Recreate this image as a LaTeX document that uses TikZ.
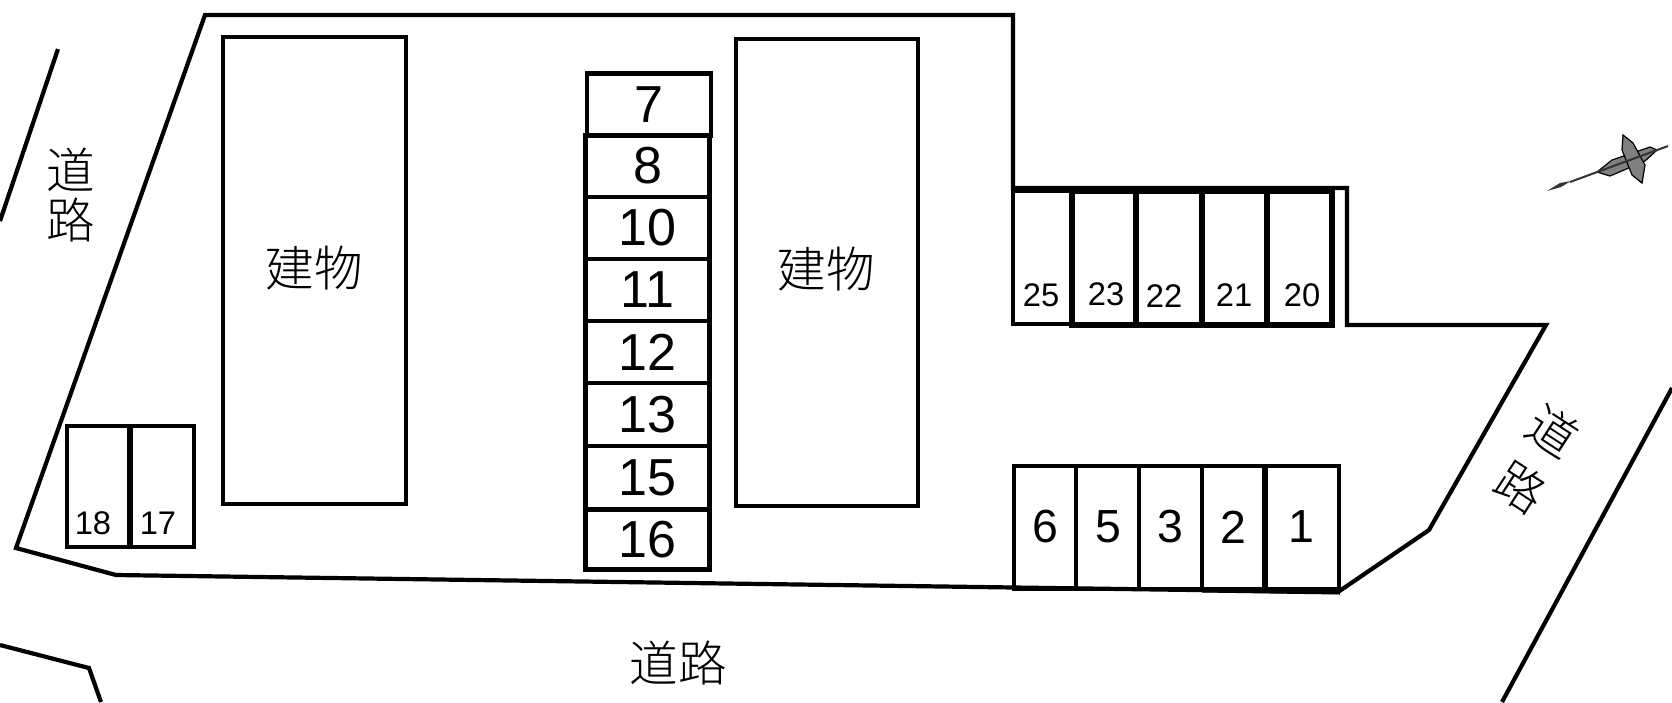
\documentclass[tikz,border=0pt]{standalone}
\usepackage{fontspec}
\setmainfont{Liberation Sans}
\newfontfamily\jpfont{Noto Sans CJK JP Light}
\tikzset{
	wall/.style={line width=0.042cm, line join=miter},
	thickwall/.style={line width=0.055cm},
	stall/.style={draw, line width=0.042cm, minimum width=1.24cm, inner sep=0, outer sep=0, font=\fontsize{14.8}{16}\selectfont},
	midnum/.style={inner sep=0, font=\fontsize{13.2}{15}\selectfont},
	smallnum/.style={inner sep=0, font=\fontsize{9.3}{11}\selectfont},
	kanji/.style={inner sep=0, font=\jpfont\fontsize{13.8}{15}\selectfont}
}

\begin{document}
\begin{tikzpicture}[x=0.01cm, y=-0.01cm]
			\useasboundingbox (0, 0) rectangle (1672, 702);
			%%%%% START %%%%%
			% lot outline
			\draw[wall] (205, 15) -- (1013, 15) -- (1013, 188) -- (1347, 188) -- (1347, 325) -- (1546, 325) -- (1429, 530) -- (1338, 592) -- (116, 575) -- (16, 548) -- cycle;
			
			% roads
			\draw[wall] (58, 49) -- (0, 221);
			\draw[wall] (0, 645) -- (89, 668) -- (101, 702);
			\draw[wall] (1672, 388) -- (1502, 702);
			
			% buildings
			\draw[wall] (223, 37) rectangle (406, 504);
			\draw[wall] (736, 39) rectangle (918, 506);
			\node[kanji] (bldgL) at (314, 268) {建物};
			\node[kanji] (bldgR) at (826, 269) {建物};
			
			% middle column
			\node[stall, minimum height=0.62cm] (n7) at (649, 104.5) {7};
			\node[stall, minimum height=0.62cm] (n8) at (647.5, 166) {8};
			\node[stall, minimum height=0.62cm] (n10) at (647.5, 228) {10};
			\node[stall, minimum height=0.62cm] (n11) at (647.5, 290) {11};
			\node[stall, minimum height=0.62cm] (n12) at (647.5, 352) {12};
			\node[stall, minimum height=0.63cm] (n13) at (647.5, 414.5) {13};
			\node[stall, minimum height=0.63cm] (n15) at (647.5, 477.5) {15};
			\node[stall, minimum height=0.60cm] (n16) at (647.5, 539.5) {16};
			
			% upper right row
			\draw[wall] (1013, 191) rectangle (1072, 324);
			\draw[thickwall] (1072, 191) rectangle (1332, 325);
			\draw[thickwall] (1136, 191) -- (1136, 325);
			\draw[thickwall] (1202, 191) -- (1202, 325);
			\draw[thickwall] (1267, 191) -- (1267, 325);
			\node[smallnum] (n25) at (1041, 295) {25};
			\node[smallnum] (n23) at (1106, 294) {23};
			\node[smallnum] (n22) at (1164, 296) {22};
			\node[smallnum] (n21) at (1234, 295) {21};
			\node[smallnum] (n20) at (1302, 295) {20};
			
			% lower right row
			\draw[wall] (1014, 466) rectangle (1339, 589);
			\draw[wall] (1076, 466) -- (1076, 589);
			\draw[wall] (1139, 466) -- (1139, 589);
			\draw[wall] (1202, 466) -- (1202, 590);
			\draw[thickwall] (1265, 466) -- (1265, 591);
			\draw[line width=0.05cm] (1202, 590) -- (1340, 592);
			\node[midnum] (n6) at (1045, 527) {6};
			\node[midnum] (n5) at (1108, 527) {5};
			\node[midnum] (n3) at (1170, 527) {3};
			\node[midnum] (n2) at (1233, 527) {2};
			\node[midnum] (n1) at (1301, 527) {1};
			
			% left pair
			\draw[wall] (67, 426) rectangle (194, 547);
			\draw[thickwall] (130, 426) -- (130, 547);
			\node[smallnum] (n18) at (93, 523) {18};
			\node[smallnum] (n17) at (158, 523) {17};
			
			% road labels
			\node[kanji] (roadA) at (71, 170) {道};
			\node[kanji] (roadB) at (71, 220) {路};
			\node[kanji] (roadC) at (678, 663) {道路};
			\node[kanji, rotate=-33] (roadD) at (1553, 431) {道};
			\node[kanji, rotate=-33] (roadE) at (1521, 487) {路};
			
			% compass
			\draw[line width=0.012cm, fill=black!50] (1597, 172) -- (1612, 160) -- (1650, 147) -- (1657, 150) -- (1645, 161) -- (1610, 176) -- cycle;
			\draw[line width=0.012cm, fill=black!50] (1623, 135) -- (1633, 143) -- (1645, 165) -- (1642, 183) -- (1632, 175) -- (1622, 150) -- cycle;
			\draw[line width=0.02cm, black!80] (1570, 182) -- (1668, 146);
			\draw[fill=black!80, draw=none] (1547, 191) -- (1560, 183) -- (1571, 181) -- (1561, 187) -- cycle;
			%%%%% END %%%%%
		\end{tikzpicture}
\end{document}
